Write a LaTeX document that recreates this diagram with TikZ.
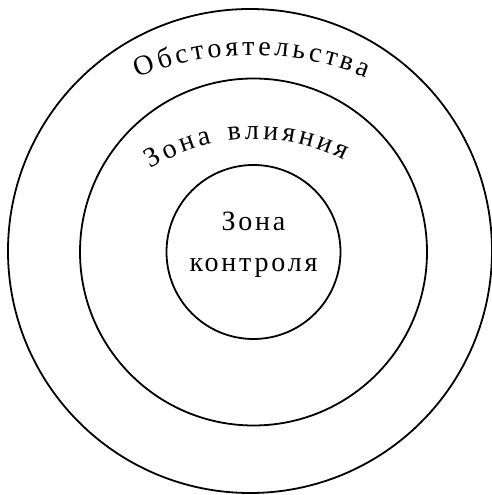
\documentclass[tikz,border=0pt]{standalone}
\usepackage{fontspec}
\setmainfont{Liberation Serif}[LetterSpace=10]
\usetikzlibrary{decorations.text}
\newcommand\zonefont{\fontsize{28}{41}\selectfont}

\begin{document}
\begin{tikzpicture}[
        x=1pt, y=1pt,
        ring/.style={circle, draw, line width=1.8pt, inner sep=0pt},
        zone/.style={font=\zonefont, align=center, inner sep=0pt},
        arctext/.style={decoration={text effects along path, text={#1}, text align=center,
            text effects/.cd, text along path,
            every character/.style={font=\zonefont, inner xsep=1.8pt, anchor=base},
            character widths={font=\zonefont, inner xsep=1.8pt}}, decorate}
    ]
        \useasboundingbox (0,0) rectangle (492,495);

        % Outer ring: circumstances
        \node[ring, minimum size=484pt] (outer) at (250,244) {};

        % Middle ring: influence
        \node[ring, minimum size=347pt] (middle) at (253.5,243) {};

        % Inner ring: control
        \node[ring, minimum size=174pt] (inner) at (253.5,243) {};
        \node[zone] (ctrl) at (253.5,250) {Зона\\контроля};

        % Curved labels
        \path[arctext={Обстоятельства}] (252,140) ++(116:300) arc[start angle=116, end angle=64, radius=300];
        \path[arctext={Зона влияния}] (255,160) ++(133:196) arc[start angle=133, end angle=52, radius=196];
    \end{tikzpicture}
\end{document}
